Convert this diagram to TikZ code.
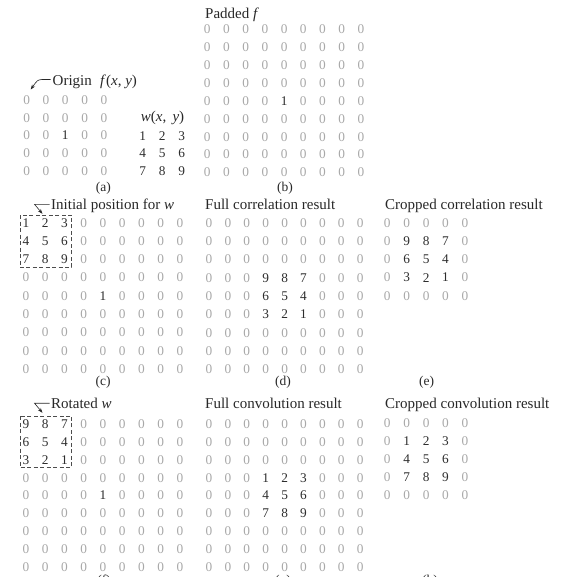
\documentclass[tikz,border=0pt]{standalone}
\usepackage{fontspec}
\setmainfont{Liberation Serif}
\usetikzlibrary{arrows.meta}
\definecolor{zc}{RGB}{168,168,168}
\definecolor{nc}{RGB}{45,45,45}
\definecolor{tc}{RGB}{40,40,40}
% #1 name, #2 x0, #3 y0, #4 dx, #5 dy, #6 rows
\newcommand\drawmat[6]{%
  \foreach \row [count=\i] in {#6} {%
    \foreach \v [count=\j] in \row {%
      \ifnum\v=0\relax\def\cc{zc}\else\def\cc{nc}\fi
      \node[cell,text=\cc] (#1-\i-\j) at ({#2+(\j-1)*#4},{#3+(\i-1)*#5}) {\v};
    }%
  }%
}
\newcommand\wvar{\textit{w}}
\begin{document}
\begin{tikzpicture}[x=1pt,y=-1pt,
  cell/.style={inner sep=0pt,font=\fontsize{13.3}{16}\selectfont},
  ttl/.style={inner sep=0pt,anchor=base west,text=tc,font=\fontsize{15}{18}\selectfont},
  lab/.style={inner sep=0pt,anchor=base,text=tc,font=\fontsize{13.5}{16}\selectfont},
  callout/.style={draw=tc,line width=0.6pt,-{Stealth[length=5pt,width=3.6pt]}},
  dbox/.style={draw=nc!85,line width=0.6pt,dash pattern=on 4pt off 2.5pt}]
\useasboundingbox[fill=white] (0,0) rectangle (572,577);

% ---------- (a) ----------
\node[ttl] (origin) at (52.5,86) {Origin};
\node[ttl] (ftitle) at (100,86) {\textit{f}(\textit{x}, \textit{y})};
\drawmat{a}{26.7}{100}{19.3}{17.75}{{0,0,0,0,0},{0,0,0,0,0},{0,0,1,0,0},{0,0,0,0,0},{0,0,0,0,0}}
\node[ttl,anchor=base] (wtitle) at (162.5,122) {\wvar(\textit{x},\, \textit{y})};
\drawmat{w}{142.7}{135.7}{19.5}{17.65}{{1,2,3},{4,5,6},{7,8,9}}
\coordinate (oA) at (50.5,79.5);
\coordinate (oB) at (42,79.5);
\coordinate (oC) at (30.7,89.5);
\draw[callout] (oA) -- (oB) .. controls (37.5,80) .. (oC);
\node[lab] (la) at (103.3,191.5) {(a)};

% ---------- (b) ----------
\node[ttl] (btitle) at (205,18.3) {Padded \textit{f}};
\drawmat{b}{207.3}{29.3}{19.2}{17.9}{%
{0,0,0,0,0,0,0,0,0},{0,0,0,0,0,0,0,0,0},{0,0,0,0,0,0,0,0,0},{0,0,0,0,0,0,0,0,0},%
{0,0,0,0,1,0,0,0,0},{0,0,0,0,0,0,0,0,0},{0,0,0,0,0,0,0,0,0},{0,0,0,0,0,0,0,0,0},{0,0,0,0,0,0,0,0,0}}
\node[lab] (lb) at (285,191.5) {(b)};

% ---------- (c) ----------
\node[ttl] (ctitle) at (51,209.5) {Initial position for \wvar};
\drawmat{c}{26}{222.7}{19.25}{18.3}{%
{1,2,3,0,0,0,0,0,0},{4,5,6,0,0,0,0,0,0},{7,8,9,0,0,0,0,0,0},{0,0,0,0,0,0,0,0,0},%
{0,0,0,0,1,0,0,0,0},{0,0,0,0,0,0,0,0,0},{0,0,0,0,0,0,0,0,0},{0,0,0,0,0,0,0,0,0},{0,0,0,0,0,0,0,0,0}}
\draw[dbox] (20,215) rectangle (71.7,267.3);
\coordinate (iA) at (49.5,204.3);
\coordinate (iB) at (34.5,204.3);
\coordinate (iC) at (42.5,213.8);
\draw[callout] (iA) -- (iB) -- (iC);
\node[lab] (lc) at (103,385.8) {(c)};

% ---------- (d) ----------
\node[ttl] (dtitle) at (205,209.5) {Full correlation result};
\drawmat{d}{209}{222.7}{18.9}{18.35}{%
{0,0,0,0,0,0,0,0,0},{0,0,0,0,0,0,0,0,0},{0,0,0,0,0,0,0,0,0},{0,0,0,9,8,7,0,0,0},%
{0,0,0,6,5,4,0,0,0},{0,0,0,3,2,1,0,0,0},{0,0,0,0,0,0,0,0,0},{0,0,0,0,0,0,0,0,0},{0,0,0,0,0,0,0,0,0}}
\node[lab] (ld) at (283,385.8) {(d)};

% ---------- (e) ----------
\node[ttl] (etitle) at (385,209.5) {Cropped correlation result};
\drawmat{e}{387.3}{223.3}{19.4}{18.1}{{0,0,0,0,0},{0,9,8,7,0},{0,6,5,4,0},{0,3,2,1,0},{0,0,0,0,0}}
\node[lab] (le) at (426.7,385.8) {(e)};

% ---------- (f) ----------
\node[ttl] (ftitle2) at (51,408.5) {Rotated \wvar};
\drawmat{f}{26}{424.3}{19.25}{17.8}{%
{9,8,7,0,0,0,0,0,0},{6,5,4,0,0,0,0,0,0},{3,2,1,0,0,0,0,0,0},{0,0,0,0,0,0,0,0,0},%
{0,0,0,0,1,0,0,0,0},{0,0,0,0,0,0,0,0,0},{0,0,0,0,0,0,0,0,0},{0,0,0,0,0,0,0,0,0},{0,0,0,0,0,0,0,0,0}}
\draw[dbox] (20,416) rectangle (71.7,467.3);
\coordinate (rA) at (49.5,403.2);
\coordinate (rB) at (34.5,403.2);
\coordinate (rC) at (42.5,412.8);
\draw[callout] (rA) -- (rB) -- (rC);
\node[lab] (lf) at (104,584) {(f)};

% ---------- (g) ----------
\node[ttl] (gtitle) at (205,408.5) {Full convolution result};
\drawmat{g}{209}{424.3}{18.9}{17.8}{%
{0,0,0,0,0,0,0,0,0},{0,0,0,0,0,0,0,0,0},{0,0,0,0,0,0,0,0,0},{0,0,0,1,2,3,0,0,0},%
{0,0,0,4,5,6,0,0,0},{0,0,0,7,8,9,0,0,0},{0,0,0,0,0,0,0,0,0},{0,0,0,0,0,0,0,0,0},{0,0,0,0,0,0,0,0,0}}
\node[lab] (lg) at (283,584) {(g)};

% ---------- (h) ----------
\node[ttl] (htitle) at (385,408.5) {Cropped convolution result};
\drawmat{h}{387.3}{423.3}{19.4}{17.9}{{0,0,0,0,0},{0,1,2,3,0},{0,4,5,6,0},{0,7,8,9,0},{0,0,0,0,0}}
\node[lab] (lh) at (430,584) {(h)};
\end{tikzpicture}
\end{document}
